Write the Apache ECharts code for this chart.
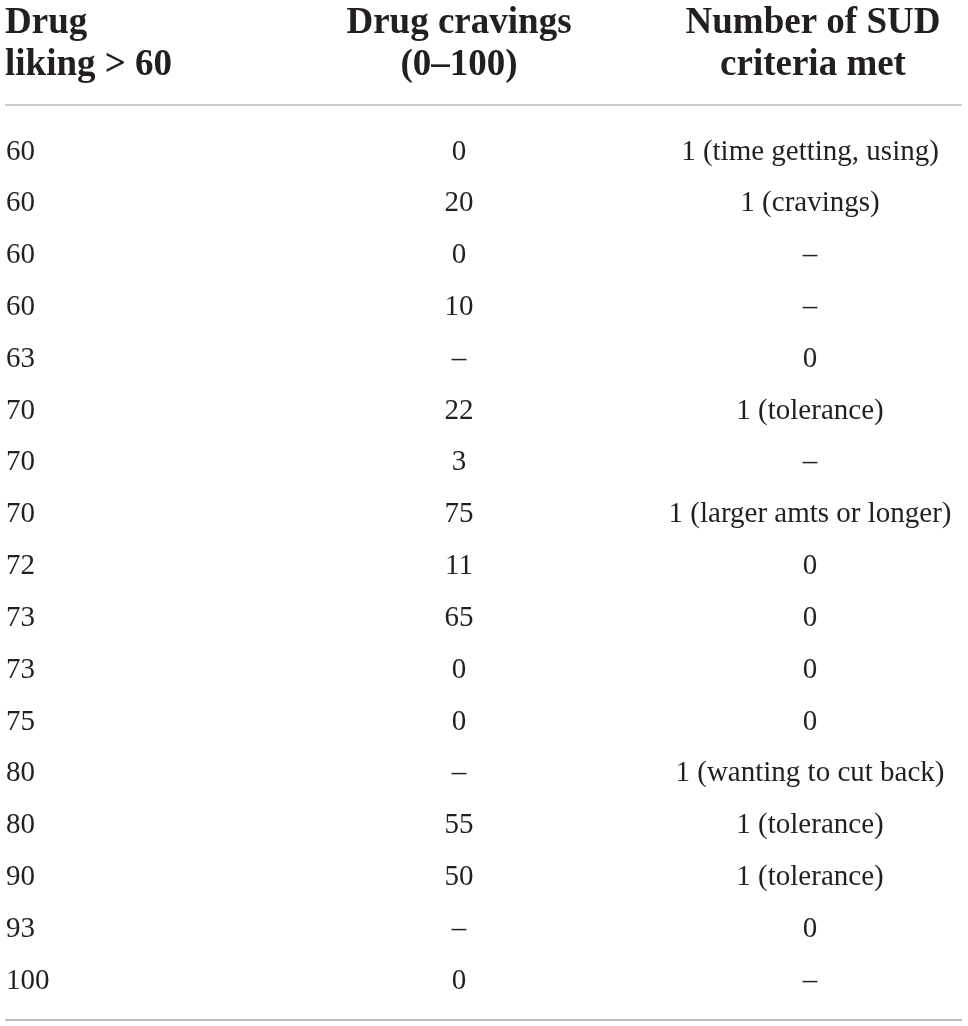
<!DOCTYPE html>
<html><head><meta charset="utf-8">
<script src="https://cdn.jsdelivr.net/npm/echarts@6/dist/echarts.min.js"></script>
<style>html,body{margin:0;padding:0;background:#fff}#c{width:968px;height:1026px}</style>
</head><body><div id="c"></div>
<script>
const headers = ["Drug\nliking > 60", "Drug cravings\n(0\u2013100)", "Number of SUD\ncriteria met"];
const drugLiking = ["60","60","60","60","63","70","70","70","72","73","73","75","80","80","90","93","100"];
const drugCravings = ["0","20","0","10","\u2013","22","3","75","11","65","0","0","\u2013","55","50","\u2013","0"];
const sudCriteria = ["1 (time getting, using)","1 (cravings)","\u2013","\u2013","0","1 (tolerance)","\u2013","1 (larger amts or longer)","0","0","0","0","1 (wanting to cut back)","1 (tolerance)","1 (tolerance)","0","\u2013"];

const rows = drugLiking.map((_, i) => 'r' + i);
const colX = [6, 459, 810]; // layout positions of the columns
const textColor = '#231f20';
const bodyFont = 'Liberation Serif';
const bodySize = 29;
const headFont = 'bold 37px "Liberation Serif"';

function colSeries(values, x, align) {
  return {
    type: 'scatter',
    symbolSize: 0,
    silent: true,
    itemStyle: { opacity: 1 },
    data: values.map((v, i) => ({ value: [x, rows[i]], txt: v })),
    label: {
      show: true,
      position: 'inside',
      align: align,
      verticalAlign: 'middle',
      color: textColor,
      opacity: 1,
      fontFamily: bodyFont,
      fontSize: bodySize,
      formatter: p => p.data.txt
    }
  };
}

const chart = echarts.init(document.getElementById('c'), null, { renderer: 'canvas' });
chart.setOption({
  animation: false,
  backgroundColor: '#ffffff',
  grid: { left: 0, right: 0, top: 126, bottom: 19 },
  xAxis: { type: 'value', min: 0, max: 968, show: false },
  yAxis: { type: 'category', data: rows, inverse: true, show: false },
  series: [
    colSeries(drugLiking, colX[0], 'left'),
    colSeries(drugCravings, colX[1], 'center'),
    colSeries(sudCriteria, colX[2], 'center')
  ],
  graphic: [
    { type: 'text', x: 5, y: 2, style: { text: headers[0], fill: textColor, font: headFont, lineHeight: 42, align: 'left' } },
    { type: 'text', x: colX[1], y: 2, style: { text: headers[1], fill: textColor, font: headFont, lineHeight: 42, align: 'center' } },
    { type: 'text', x: colX[2] + 3, y: 2, style: { text: headers[2], fill: textColor, font: headFont, lineHeight: 42, align: 'center' } },
    { type: 'line', shape: { x1: 5, y1: 105, x2: 962, y2: 105 }, style: { stroke: '#bdbdbd', lineWidth: 1.5 } },
    { type: 'line', shape: { x1: 5, y1: 1020, x2: 962, y2: 1020 }, style: { stroke: '#bdbdbd', lineWidth: 2 } }
  ]
});
</script></body></html>
